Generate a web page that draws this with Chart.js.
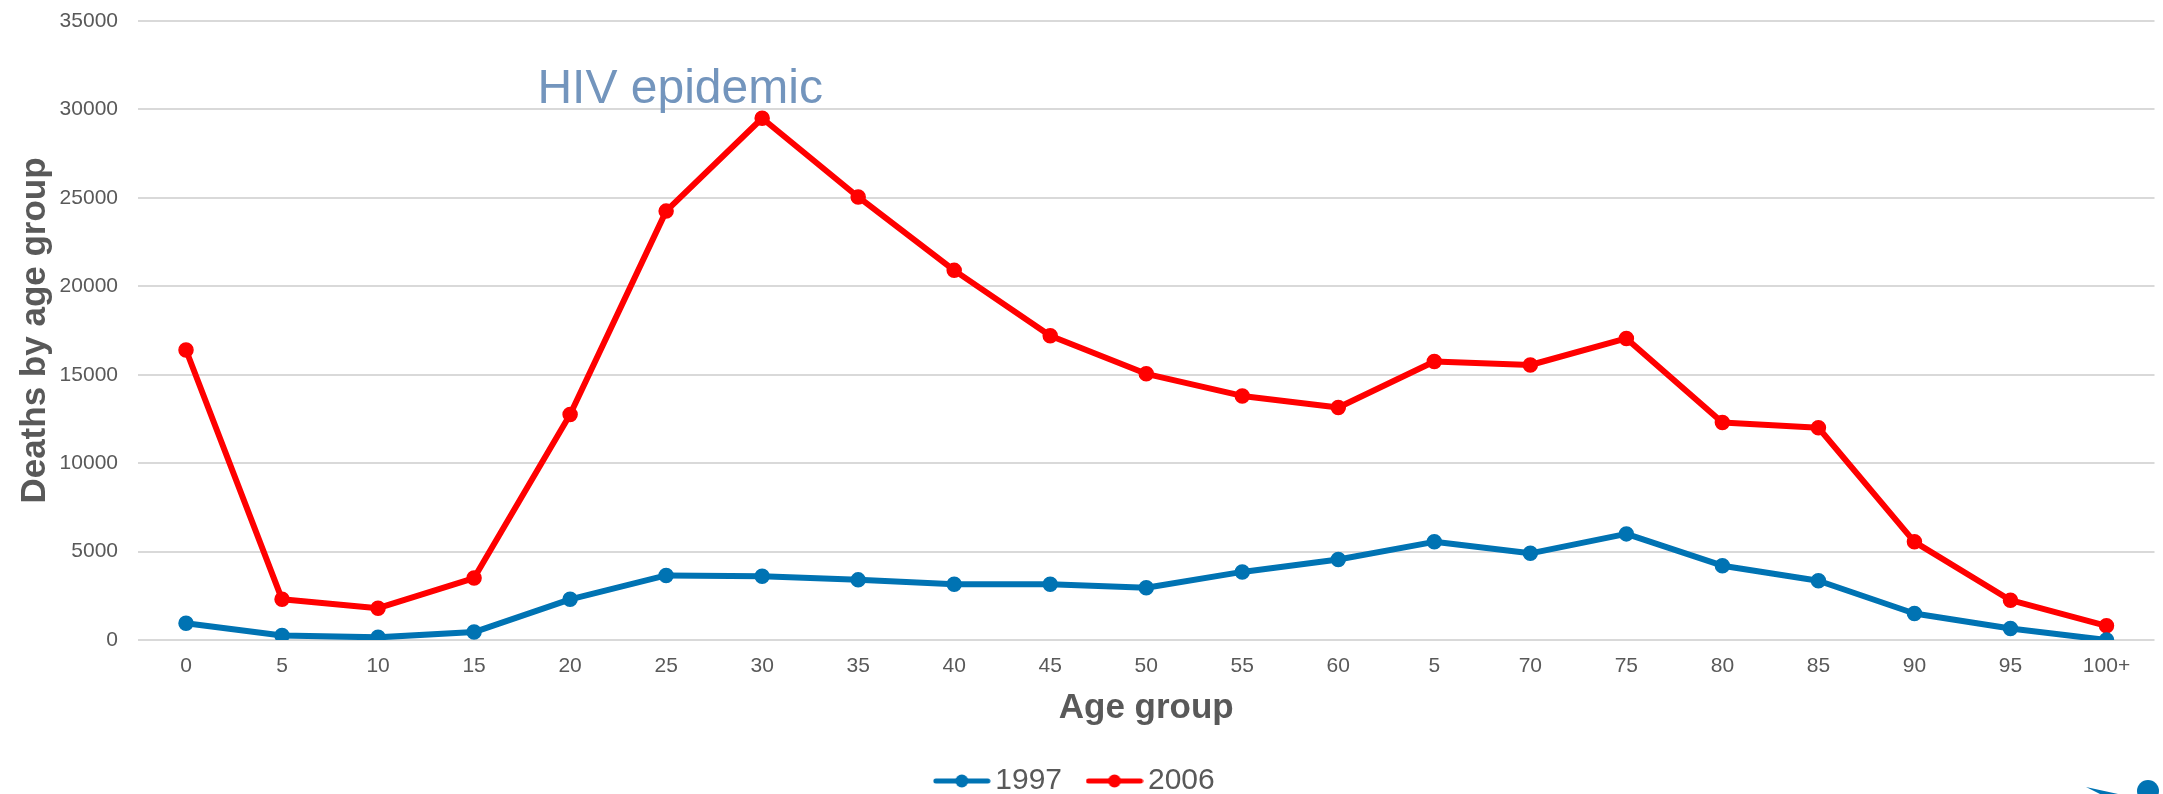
<!DOCTYPE html>
<html>
<head>
<meta charset="utf-8">
<script src="https://cdn.jsdelivr.net/npm/chart.js@4.4.1/dist/chart.umd.min.js"></script>
<style>
  html, body { margin: 0; padding: 0; background: #ffffff; overflow: hidden; }
  #wrap { position: relative; width: 2163px; height: 806px; }
</style>
</head>
<body>
<div id="wrap"><canvas id="chart"></canvas></div>
<script>
// Age groups (start age of each 5-year band)
const ageGroups = ['0', '5', '10', '15', '20', '25', '30', '35', '40', '45', '50',
                   '55', '60', '5', '70', '75', '80', '85', '90', '95', '100+'];

// Deaths per age group
const deaths1997 = [950, 250, 150, 450, 2300, 3650, 3600, 3400, 3150, 3150, 2950,
                    3850, 4550, 5550, 4900, 6000, 4200, 3350, 1500, 650, 0];
const deaths2006 = [16400, 2300, 1800, 3500, 12750, 24250, 29500, 25050, 20900, 17200, 15050,
                    13800, 13150, 15750, 15550, 17050, 12300, 12000, 5550, 2250, 800];

const seriesNames = ['1997', '2006'];
const yMax = 35000;
const yStep = 5000;

const annotationText = 'HIV epidemic';
const annotationIndex = 6;      // the 30 age group peak
const annotationValue = 30000;

const BLUE = '#0073b3';
const RED = '#ff0000';
const GREY = '#595959';
const FONT = '"Liberation Sans", Arial, sans-serif';

// legend sample: a short line with a dot in the middle
function legendSample(color) {
  const c = document.createElement('canvas');
  c.width = 58; c.height = 16;
  const g = c.getContext('2d');
  g.strokeStyle = color; g.lineWidth = 5; g.lineCap = 'round';
  g.beginPath(); g.moveTo(3, 8); g.lineTo(55, 8); g.stroke();
  g.fillStyle = color;
  g.beginPath(); g.arc(29, 8, 6.5, 0, Math.PI * 2); g.fill();
  return c;
}
const samples = [legendSample(BLUE), legendSample(RED)];

// free text near the 2006 peak, plus the partly visible mark in the corner
const extrasPlugin = {
  id: 'extras',
  afterDraw(chart) {
    const ctx = chart.ctx;
    const xs = chart.scales.x, ys = chart.scales.y;
    ctx.save();
    ctx.font = '48px ' + FONT;
    ctx.fillStyle = '#7395bd';
    ctx.textAlign = 'center';
    ctx.textBaseline = 'alphabetic';
    ctx.fillText(annotationText, xs.getPixelForValue(annotationIndex) - 82, ys.getPixelForValue(annotationValue) - 6);

    ctx.fillStyle = BLUE;
    ctx.beginPath();
    ctx.arc(2148, 791, 11, 0, Math.PI * 2);
    ctx.fill();
    ctx.beginPath();
    ctx.moveTo(2086, 787);
    ctx.lineTo(2118, 794);
    ctx.lineTo(2112, 800);
    ctx.closePath();
    ctx.fill();
    ctx.restore();
  }
};

function lineDataset(name, values, color) {
  return {
    label: name,
    data: values,
    borderColor: color,
    backgroundColor: color,
    borderWidth: 6,
    pointRadius: 7,
    pointBorderWidth: 1.5,
    pointBackgroundColor: color,
    pointBorderColor: color,
    tension: 0,
    borderJoinStyle: 'round',
    borderCapStyle: 'round'
  };
}

new Chart(document.getElementById('chart'), {
  type: 'line',
  data: {
    labels: ageGroups,
    datasets: [
      lineDataset(seriesNames[0], deaths1997, BLUE),
      lineDataset(seriesNames[1], deaths2006, RED)
    ]
  },
  options: {
    responsive: true,
    maintainAspectRatio: false,
    animation: false,
    events: [],
    layout: { padding: { top: 21, right: 5, bottom: 0, left: 0 } },
    plugins: {
      tooltip: { enabled: false },
      legend: {
        display: true,
        position: 'bottom',
        align: 'center',
        labels: {
          usePointStyle: true,
          pointStyleWidth: 37,
          padding: 34,
          color: GREY,
          font: { family: FONT, size: 30 },
          generateLabels(chart) {
            const items = Chart.defaults.plugins.legend.labels.generateLabels(chart);
            items.forEach((it, i) => { it.pointStyle = samples[i]; });
            return items;
          }
        }
      }
    },
    scales: {
      x: {
        type: 'category',
        offset: true,
        grid: { display: false, drawTicks: false },
        border: { display: false },
        ticks: {
          color: GREY,
          font: { family: FONT, size: 21 },
          padding: 14,
          maxRotation: 0,
          autoSkip: false
        },
        title: {
          display: true,
          text: 'Age group',
          color: GREY,
          font: { family: FONT, size: 35, weight: 'bold' },
          padding: { top: 0, bottom: 3 }
        },
        afterFit(scale) {
          scale.height = 92;
          scale.paddingLeft = 0;
          scale.paddingRight = 0;
        }
      },
      y: {
        min: 0,
        max: yMax,
        grid: { color: '#d9d9d9', lineWidth: 2, drawTicks: false },
        border: { display: false },
        ticks: {
          stepSize: yStep,
          color: GREY,
          font: { family: FONT, size: 21 },
          padding: 20,
          callback: (v) => String(v)
        },
        title: {
          display: true,
          text: 'Deaths by age group',
          color: GREY,
          font: { family: FONT, size: 35, weight: 'bold' },
          padding: { top: 14, bottom: 0 }
        },
        afterFit(scale) {
          scale.width = 138;
          scale.paddingTop = 0;
          scale.paddingBottom = 0;
        }
      }
    }
  },
  plugins: [extrasPlugin]
});
</script>
</body>
</html>
